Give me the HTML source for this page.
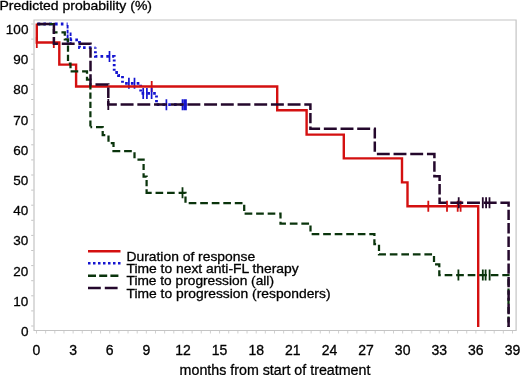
<!DOCTYPE html>
<html><head><meta charset="utf-8">
<style>
html,body{margin:0;padding:0;background:#fff;}
body{width:520px;height:375px;overflow:hidden;position:relative;}
svg{position:absolute;left:0;top:0;will-change:transform;filter:blur(0.4px);}
text{font-family:"Liberation Sans",sans-serif;fill:#000;stroke:#000;stroke-width:0.3;}
</style></head><body>
<svg width="520" height="375" viewBox="0 0 520 375">
<path d="M34,20H516.1V330.5H34Z" fill="none" stroke="#c4c4c4" stroke-width="1.2"/>
<path d="M31.2,326.0H33.5M31.2,310.9H33.5M31.2,295.8H33.5M31.2,280.7H33.5M31.2,265.6H33.5M31.2,250.5H33.5M31.2,235.4H33.5M31.2,220.3H33.5M31.2,205.2H33.5M31.2,190.1H33.5M31.2,175.0H33.5M31.2,159.9H33.5M31.2,144.8H33.5M31.2,129.7H33.5M31.2,114.6H33.5M31.2,99.5H33.5M31.2,84.4H33.5M31.2,69.3H33.5M31.2,54.2H33.5M31.2,39.1H33.5M31.2,24.0H33.5" stroke="#c4c4c4" stroke-width="1"/>
<path d="M36.50,331V333.5M45.65,331V333.5M54.81,331V333.5M63.96,331V333.5M73.12,331V333.5M82.27,331V333.5M91.42,331V333.5M100.58,331V333.5M109.73,331V333.5M118.88,331V333.5M128.04,331V333.5M137.19,331V333.5M146.34,331V333.5M155.50,331V333.5M164.65,331V333.5M173.81,331V333.5M182.96,331V333.5M192.11,331V333.5M201.27,331V333.5M210.42,331V333.5M219.57,331V333.5M228.73,331V333.5M237.88,331V333.5M247.04,331V333.5M256.19,331V333.5M265.34,331V333.5M274.50,331V333.5M283.65,331V333.5M292.81,331V333.5M301.96,331V333.5M311.11,331V333.5M320.27,331V333.5M329.42,331V333.5M338.57,331V333.5M347.73,331V333.5M356.88,331V333.5M366.04,331V333.5M375.19,331V333.5M384.34,331V333.5M393.50,331V333.5M402.65,331V333.5M411.80,331V333.5M420.96,331V333.5M430.11,331V333.5M439.26,331V333.5M448.42,331V333.5M457.57,331V333.5M466.73,331V333.5M475.88,331V333.5M485.03,331V333.5M494.19,331V333.5M503.34,331V333.5M512.50,331V333.5" stroke="#d0d0d0" stroke-width="1"/>
<g fill="none" stroke-width="2.6">
<path d="M88,251.2H120.5" stroke="#d41010"/>
<path d="M88,263.2H120.5" stroke="#1414d0" stroke-dasharray="2.5 2.5"/>
<path d="M88,275.8H120.5" stroke="#0a340c" stroke-dasharray="8 3.2"/>
<path d="M88,288H120.5" stroke="#24082c" stroke-dasharray="12.8 4"/>
</g>
<text x="-0.5" y="10.1" font-size="13" textLength="152.5" lengthAdjust="spacingAndGlyphs">Predicted probability (%)</text>
<text x="179.6" y="375.1" font-size="15.3" textLength="190.8" lengthAdjust="spacingAndGlyphs">months from start of treatment</text>
<text x="126.5" y="260.9" font-size="13" textLength="128.6" lengthAdjust="spacingAndGlyphs">Duration of response</text>
<text x="126.5" y="273.2" font-size="13" textLength="172.2" lengthAdjust="spacingAndGlyphs">Time to next anti-FL therapy</text>
<text x="126.5" y="285.1" font-size="13" textLength="147.5" lengthAdjust="spacingAndGlyphs">Time to progression (all)</text>
<text x="126.5" y="297.5" font-size="13" textLength="204" lengthAdjust="spacingAndGlyphs">Time to progression (responders)</text>
<text x="28.4" y="336" font-size="13.5" text-anchor="end">0</text>
<text x="28.4" y="306" font-size="13.5" text-anchor="end">10</text>
<text x="28.4" y="275.6" font-size="13.5" text-anchor="end">20</text>
<text x="28.4" y="245.4" font-size="13.5" text-anchor="end">30</text>
<text x="28.4" y="215.1" font-size="13.5" text-anchor="end">40</text>
<text x="28.4" y="184.9" font-size="13.5" text-anchor="end">50</text>
<text x="28.4" y="154.7" font-size="13.5" text-anchor="end">60</text>
<text x="28.4" y="124.5" font-size="13.5" text-anchor="end">70</text>
<text x="28.4" y="94" font-size="13.5" text-anchor="end">80</text>
<text x="28.4" y="64" font-size="13.5" text-anchor="end">90</text>
<text x="28.4" y="33.7" font-size="13.5" text-anchor="end">100</text>
<text x="36.5" y="354.6" font-size="14" text-anchor="middle">0</text>
<text x="73.12" y="354.6" font-size="14" text-anchor="middle">3</text>
<text x="109.73" y="354.6" font-size="14" text-anchor="middle">6</text>
<text x="146.34" y="354.6" font-size="14" text-anchor="middle">9</text>
<text x="182.96" y="354.6" font-size="14" text-anchor="middle">12</text>
<text x="219.57" y="354.6" font-size="14" text-anchor="middle">15</text>
<text x="256.19" y="354.6" font-size="14" text-anchor="middle">18</text>
<text x="292.81" y="354.6" font-size="14" text-anchor="middle">21</text>
<text x="329.42" y="354.6" font-size="14" text-anchor="middle">24</text>
<text x="366.04" y="354.6" font-size="14" text-anchor="middle">27</text>
<text x="402.65" y="354.6" font-size="14" text-anchor="middle">30</text>
<text x="439.26" y="354.6" font-size="14" text-anchor="middle">33</text>
<text x="475.88" y="354.6" font-size="14" text-anchor="middle">36</text>
<text x="512.5" y="354.6" font-size="14" text-anchor="middle">39</text>
<g fill="none">
<path d="M37.60,24.00L40.25,24.00M43.40,24.00L46.05,24.00M49.20,24.00L51.85,24.00M55.05,24.00L57.65,24.00M60.85,24.00L63.45,24.00M66.65,24.00L67.60,24.00M70.60,39.80L72.14,39.80M75.32,39.80L77.96,39.80M79.50,41.09L79.50,43.23M79.50,45.76L79.50,47.60L79.85,47.60M83.04,47.60L85.63,47.60M88.82,47.60L91.46,47.60M94.65,47.60L95.40,47.60M95.40,47.60L95.40,48.60M95.40,51.20L95.40,53.30M95.40,55.85L95.40,56.40L97.35,56.40M100.50,56.40L103.15,56.40M106.30,56.40L108.95,56.40M112.10,56.40L114.20,56.40L114.20,56.85M114.20,59.40L114.20,61.50M114.20,64.05L114.20,66.15M114.20,68.75L114.20,70.85M115.30,72.50L117.95,72.50M118.50,74.60L118.50,75.50L120.00,75.50M122.50,76.05L122.50,78.15M122.50,80.75L122.50,82.85M125.10,83.30L127.75,83.30M130.90,83.30L133.55,83.30M136.70,83.30L139.35,83.30M140.70,84.74L140.70,86.88M140.70,89.42L140.70,91.51M141.55,93.40L144.19,93.40M147.38,93.40L149.97,93.40M153.16,93.40L155.80,93.40M156.50,95.40L156.50,97.50M156.50,100.05L156.50,102.15M156.65,104.60L159.25,104.60M162.45,104.60L165.05,104.60M168.25,104.60L170.85,104.60M174.05,104.60L176.65,104.60M179.85,104.60L182.45,104.60M185.65,104.60L186.50,104.60" stroke="#1414d0" stroke-width="2.8"/>
<path d="M109.5,51.0V62.0M128.9,77.8V88.8M134.5,77.8V88.8M166.4,99.3V110.3M182.5,99.3V110.3M184.4,99.3V110.3M186,99.3V110.3" stroke="#1414d0" stroke-width="1.7"/>
<path d="M67.6,25V42.5M70.6,32.5V43.5" stroke="#1414d0" stroke-width="1.9" stroke-dasharray="3.6 1.2"/>
<path d="M36.8,23.5V42.5H59.3V64.6H76.1V86.5H277.2V110.3H306.6V134.6H343.8V158.4H402V182.4H407.5V206.3H478.2V327" stroke="#d41010" stroke-width="2.4"/>
<path d="M36.8,37V48M53.8,37.0V48.0M151.7,81.0V92.0M428.3,200.8V211.8M447,200.8V211.8M457.7,200.8V211.8M460.6,200.8V211.8" stroke="#d41010" stroke-width="1.8"/>
<path d="M143.2,87.9V98.9M146.9,87.9V98.9M151.6,87.9V98.9" stroke="#1414d0" stroke-width="1.7"/>
<path d="M37.15,24.00L44.80,24.00M48.70,24.00L53.90,24.00L53.90,25.95M53.90,29.10L53.90,32.30L57.55,32.30M61.45,32.30L64.80,32.30L64.80,35.75M64.80,38.85L64.80,39.30L68.00,39.30L68.00,42.44M68.00,45.59L68.00,51.72M68.00,54.87L68.00,61.01M68.80,63.50L70.50,63.50L70.50,68.32M70.60,71.40L78.25,71.40M82.10,71.40L87.00,71.40L87.00,73.65M87.00,76.75L87.00,79.50L90.40,79.50L90.40,80.20M90.40,83.30L90.40,89.50M90.40,92.60L90.40,98.75M90.40,101.85L90.40,108.05M90.40,111.15L90.40,117.30M90.40,120.45L90.40,126.60M90.40,127.00L92.15,127.00M96.00,127.00L102.70,127.00L102.70,127.80M102.70,130.90L102.70,135.00L105.30,135.00M108.50,135.55L108.50,141.70M110.75,143.00L113.50,143.00L113.50,146.95M113.50,150.05L113.50,151.20L120.25,151.20M124.10,151.20L131.80,151.20M134.50,152.14L134.50,158.31M137.45,159.60L143.60,159.60L143.60,160.80M143.60,163.94L143.60,170.07M143.60,173.21L143.60,176.50L146.60,176.50L146.60,176.95M146.60,180.04L146.60,186.22M146.60,189.36L146.60,192.80L151.69,192.80M155.54,192.80L163.18,192.80M167.07,192.80L174.71,192.80M178.61,192.80L185.50,192.80L185.50,193.40M185.50,196.50L185.50,202.70M188.70,203.00L196.35,203.00M200.20,203.00L207.90,203.00M211.75,203.00L219.45,203.00M223.30,203.00L230.95,203.00M234.80,203.00L242.50,203.00M244.20,204.75L244.20,210.90M244.60,213.50L252.29,213.50M256.13,213.50L263.82,213.50M267.67,213.50L275.31,213.50M279.20,213.50L280.50,213.50L280.50,218.60M280.50,221.75L280.50,223.50L285.95,223.50M289.80,223.50L297.50,223.50M301.35,223.50L309.05,223.50M310.50,225.40L310.50,231.60M311.65,234.00L319.30,234.00M323.15,234.00L330.85,234.00M334.70,234.00L342.35,234.00M346.25,234.00L353.90,234.00M357.75,234.00L365.45,234.00M369.30,234.00L374.40,234.00L374.40,236.05M374.40,239.15L374.40,244.00L376.08,244.00M379.00,244.75L379.00,250.92M379.00,254.05L379.00,254.40L385.95,254.40M389.80,254.40L397.45,254.40M401.35,254.40L409.00,254.40M412.85,254.40L420.55,254.40M424.40,254.40L432.05,254.40M434.00,255.95L434.00,262.10M435.04,264.40L439.30,264.40L439.30,267.14M439.30,270.22L439.30,275.00L440.75,275.00M444.65,275.00L452.30,275.00M456.15,275.00L463.85,275.00M467.70,275.00L475.35,275.00M479.20,275.00L486.90,275.00M490.75,275.00L498.40,275.00M502.30,275.00L508.50,275.00L508.50,276.15M508.50,279.30L508.50,285.45M508.50,288.55L508.50,294.75M508.50,297.85L508.50,304.00M508.50,307.10L508.50,313.30M508.50,316.40L508.50,322.55M508.50,325.70L508.50,327.00" stroke="#0a340c" stroke-width="2.25"/>
<path d="M182.5,187.3V198.3M458.4,269.5V280.5M482.8,269.5V280.5M485.6,269.5V280.5M489.6,269.5V280.5" stroke="#0a340c" stroke-width="1.8"/>
<path d="M37.00,24.00L49.75,24.00M53.50,24.00L53.90,24.00L53.90,34.07M53.90,37.12L53.90,43.70L57.95,43.70M61.75,43.70L74.65,43.70M78.45,43.70L90.50,43.70L90.50,44.40M90.50,47.45L90.50,57.85M90.50,60.85L90.50,71.30M90.50,74.30L90.50,84.40L91.65,84.40M95.45,84.40L108.30,84.40L108.30,84.45M108.30,87.50L108.30,97.90M108.30,100.95L108.30,104.40L116.85,104.40M120.60,104.40L133.55,104.40M137.35,104.40L150.25,104.40M154.05,104.40L166.95,104.40M170.75,104.40L183.65,104.40M187.40,104.40L200.35,104.40M204.15,104.40L217.05,104.40M220.85,104.40L233.75,104.40M237.55,104.40L250.45,104.40M254.25,104.40L267.15,104.40M270.90,104.40L283.85,104.40M287.65,104.40L300.55,104.40M304.30,104.40L310.40,104.40L310.40,109.90M310.40,112.95L310.40,123.35M310.40,126.40L310.40,128.70L320.09,128.70M323.84,128.70L336.78,128.70M340.53,128.70L353.47,128.70M357.21,128.70L370.15,128.70M373.90,128.70L374.80,128.70L374.80,138.43M374.80,141.42L374.80,151.85M376.85,153.90L389.75,153.90M393.55,153.90L406.45,153.90M410.25,153.90L423.15,153.90M426.95,153.90L434.40,153.90L434.40,158.30M434.40,161.35L434.40,171.75M434.40,174.75L434.40,176.20L439.60,176.20L439.60,180.99M439.60,184.04L439.60,194.47M439.60,197.46L439.60,202.80L446.55,202.80M450.30,202.80L463.25,202.80M467.00,202.80L479.95,202.80M483.70,202.80L496.65,202.80M500.40,202.80L508.60,202.80L508.60,206.65M508.60,209.65L508.60,220.10M508.60,223.10L508.60,233.50M508.60,236.55L508.60,246.95M508.60,250.00L508.60,260.40M508.60,263.45L508.60,273.85M508.60,276.90L508.60,287.30M508.60,290.35L508.60,300.75M508.60,303.75L508.60,314.20M508.60,317.20L508.60,327.00" stroke="#24082c" stroke-width="2.5"/>
<path d="M108.3,98.9V109.9M458.7,197.3V208.3M482.8,197.3V208.3M486.1,197.3V208.3M489.5,197.3V208.3" stroke="#24082c" stroke-width="1.8"/>
</g>
</svg>
</body></html>
